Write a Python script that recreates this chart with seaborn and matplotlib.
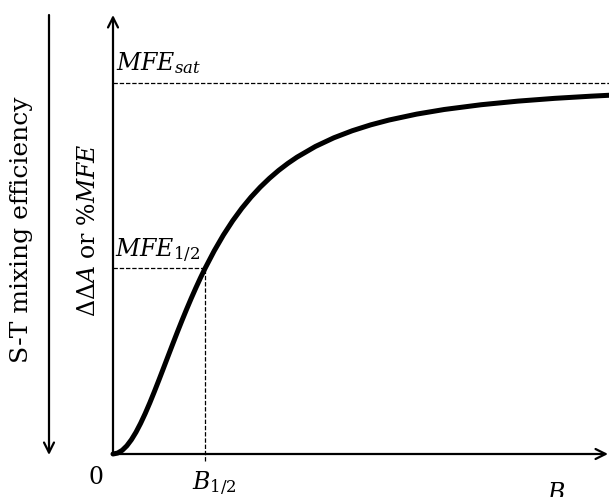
import matplotlib
matplotlib.use("Agg")
import matplotlib.pyplot as plt
import seaborn as sns
import pandas as pd

sns.set_style("white")
plt.rcParams["font.family"] = ["DejaVu Serif"]
plt.rcParams["mathtext.fontset"] = "dejavuserif"
plt.rcParams["text.color"] = "black"

# Field strength B (in units of B_1/2) and normalised MFE response
field_b = [0.0, 0.05, 0.1, 0.15, 0.2, 0.25, 0.3, 0.35, 0.4, 0.45, 0.5,
           0.55, 0.6, 0.65, 0.7, 0.75, 0.8, 0.85, 0.9, 0.95, 1.0, 1.1, 1.2,
           1.3, 1.4, 1.5, 1.6, 1.7, 1.8, 1.9, 2.0, 2.2, 2.4, 2.6, 2.8, 3.0,
           3.3, 3.6, 4.0, 4.4, 4.8, 5.2, 5.4]
mfe = [0.0, 0.0025, 0.0099, 0.0220, 0.0385, 0.0588, 0.0826, 0.1091, 0.1379,
       0.1684, 0.2000, 0.2322, 0.2647, 0.2970, 0.3289, 0.3600, 0.3902,
       0.4194, 0.4475, 0.4744, 0.5000, 0.5475, 0.5902, 0.6283, 0.6622,
       0.6923, 0.7191, 0.7429, 0.7642, 0.7831, 0.8000, 0.8288, 0.8521,
       0.8711, 0.8869, 0.9000, 0.9159, 0.9284, 0.9412, 0.9509, 0.9584,
       0.9643, 0.9668]

mfe_sat = 1.0
mfe_half = 0.5
b_half = 1.0

x_max = 5.39
y_max = 1.183

W, H = 609, 497
fig = plt.figure(figsize=(W / 100, H / 100), dpi=100)
ax = fig.add_axes([113 / W, (H - 454) / H, 496 / W, (454 - 15) / H])
ax.set_xlim(0, x_max)
ax.set_ylim(0, y_max)
ax.axis("off")

df = pd.DataFrame({"B": field_b, "MFE": mfe})
sns.lineplot(data=df, x="B", y="MFE", ax=ax, color="black", lw=3.6,
             solid_capstyle="round", solid_joinstyle="round", clip_on=False)

# guide lines for saturation and half-saturation
dash = dict(color="black", lw=0.9, ls=(0, (3.5, 1.5)), clip_on=False)
ax.plot([0, x_max], [mfe_sat, mfe_sat], **dash)
ax.plot([0, b_half], [mfe_half, mfe_half], **dash)
ax.plot([b_half, b_half], [-0.02, mfe_half], **dash)

# axes drawn as arrows
arrow = dict(arrowstyle="->", lw=1.6, color="black", shrinkA=0, shrinkB=0,
             mutation_scale=18)
ax.annotate("", xy=(x_max * 0.998, 0), xytext=(0, 0), arrowprops=arrow,
            annotation_clip=False)
ax.annotate("", xy=(0, y_max), xytext=(0, 0), arrowprops=arrow,
            annotation_clip=False)

# outer arrow indicating mixing efficiency direction
fig.patches.append(matplotlib.patches.FancyArrowPatch(
    (49 / W, 1 - 15 / H), (49 / W, 1 - 455 / H), transform=fig.transFigure,
    arrowstyle="->", lw=1.6, color="black", mutation_scale=18,
    shrinkA=0, shrinkB=0))


def px(x, y):
    return x / W, 1 - y / H


fig.text(*px(22, 230), "S-T mixing efficiency", rotation=90, fontsize=18,
         ha="center", va="center")
fig.text(*px(89, 230), r"$\Delta\Delta A$ or $\%MFE$", rotation=90,
         fontsize=17, ha="center", va="center")
fig.text(*px(116, 70), r"$MFE_{sat}$", fontsize=17, ha="left",
         va="baseline")
fig.text(*px(115, 257), r"$MFE_{1/2}$", fontsize=17, ha="left",
         va="baseline")
fig.text(*px(96, 478), "0", fontsize=17, ha="center", va="center")
fig.text(*px(214, 490), r"$B_{1/2}$", fontsize=17, ha="center",
         va="baseline")
fig.text(*px(556, 500), r"$B$", fontsize=17, ha="center", va="baseline")

fig.savefig("out.png", dpi=100)
